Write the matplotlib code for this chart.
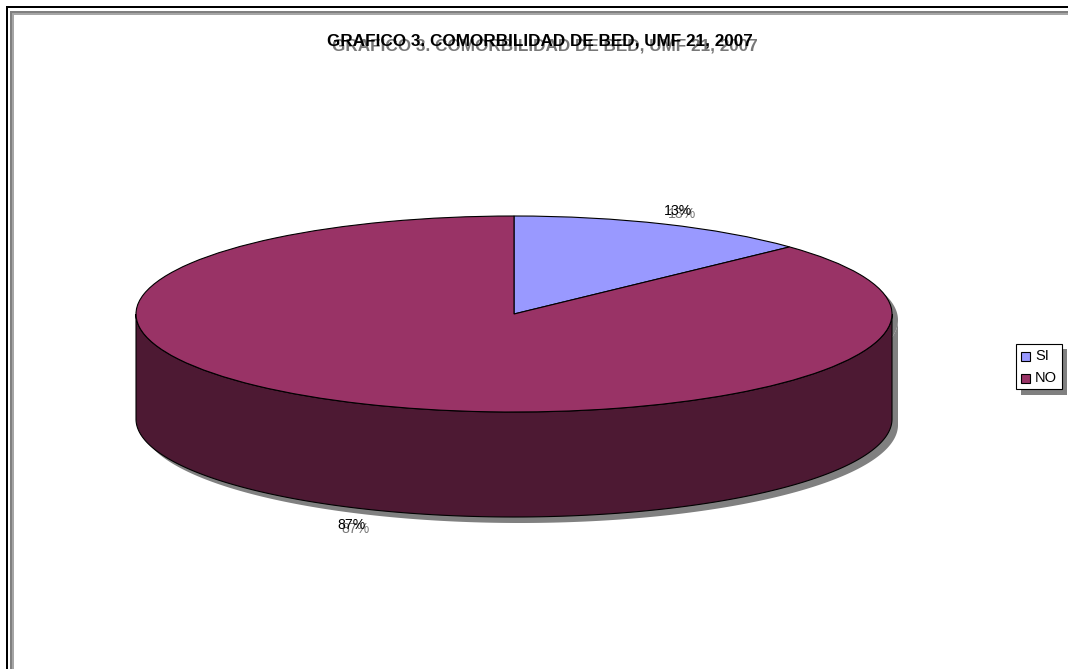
import numpy as np
import matplotlib
matplotlib.use("Agg")
import matplotlib.pyplot as plt
from matplotlib.patches import Rectangle, Polygon

plt.rcParams['font.family'] = ['Liberation Sans', 'DejaVu Sans']

categories = ['SI', 'NO']
shares = [13, 87]
colors = ['#9999FF', '#993366']
title = 'GRAFICO 3. COMORBILIDAD DE BED, UMF 21, 2007'

WIDTH, HEIGHT = 1068, 669
CX, CY = 514, 314      # centre of the top ellipse
RX, RY = 378, 98       # radii of the top ellipse
DEPTH = 105            # height of the cylinder wall
WALL = '#4D1933'
SHADOW = '#808080'

fig = plt.figure(figsize=(WIDTH / 100, HEIGHT / 100), dpi=100, facecolor='white')

# pixel axes for the frame, texts and legend
bg = fig.add_axes([0, 0, 1, 1])
bg.set_xlim(0, WIDTH)
bg.set_ylim(HEIGHT, 0)
bg.axis('off')

# outer black frame and grey inner frame run off the right and bottom edges
bg.add_patch(Rectangle((6, 6), WIDTH, 2, fc='black', ec='none'))
bg.add_patch(Rectangle((6, 6), 2, HEIGHT, fc='black', ec='none'))
bg.add_patch(Rectangle((10, 11), WIDTH, 4, fc='#A6A6A6', ec='none'))
bg.add_patch(Rectangle((10, 11), 4, HEIGHT, fc='#A6A6A6', ec='none'))
bg.add_patch(Rectangle((10, 11), WIDTH, 2, fc='#808080', ec='none'))
bg.add_patch(Rectangle((10, 11), 2, HEIGHT, fc='#808080', ec='none'))


def shadowed_text(ax, x, y, s, size, weight='normal', dx=5, dy=4):
    ax.text(x + dx, y + dy, s, color='#777777', fontsize=size, fontweight=weight,
            ha='center', va='center', zorder=5)
    ax.text(x, y, s, color='black', fontsize=size, fontweight=weight,
            ha='center', va='center', zorder=6)


# pie axes: one data unit equals one radius, so the wedges come out elliptical
pie_ax = fig.add_axes([0, 0, 1, 1])
pie_ax.patch.set_alpha(0)
wedges, _ = pie_ax.pie(shares, colors=colors, startangle=90, counterclock=False,
                       radius=1, wedgeprops={'edgecolor': 'black', 'linewidth': 0.8, 'zorder': 4})
pie_ax.set_aspect('auto')
pie_ax.set_xlim(-CX / RX, (WIDTH - CX) / RX)
pie_ax.set_ylim((CY - HEIGHT) / RY, CY / RY)
pie_ax.axis('off')

# cylinder wall below the front half of the ellipse
t = np.linspace(np.pi, 2 * np.pi, 300)
depth = DEPTH / RY
front = np.column_stack([np.cos(t), np.sin(t)])
lower = np.column_stack([np.cos(t[::-1]), np.sin(t[::-1]) - depth])
wall_pts = np.vstack([front, lower])

# drop shadow of the whole solid
full = np.linspace(0, 2 * np.pi, 400)
top_pts = np.column_stack([np.cos(full), np.sin(full)])
off = np.array([6 / RX, -6 / RY])
pie_ax.add_patch(Polygon(wall_pts + off, fc=SHADOW, ec='none', zorder=1))
pie_ax.add_patch(Polygon(top_pts + off, fc=SHADOW, ec='none', zorder=1))

pie_ax.add_patch(Polygon(wall_pts, fc=WALL, ec='black', lw=0.8, zorder=2))

# title and value labels
shadowed_text(bg, 540, 41, title, 12.35, weight='bold', dx=5, dy=5)
shadowed_text(bg, 678, 211, f'{shares[0]}%', 10.2, dx=4, dy=3)
shadowed_text(bg, 352, 525, f'{shares[1]}%', 10.2, dx=4, dy=4)

# legend box with its shadow
leg = fig.add_axes([0, 0, 1, 1])
leg.set_xlim(0, WIDTH)
leg.set_ylim(HEIGHT, 0)
leg.axis('off')
leg.add_patch(Rectangle((1021, 349), 46, 46, fc=SHADOW, ec='none', zorder=1))
leg.add_patch(Rectangle((1016, 344), 46, 45, fc='white', ec='black', lw=0.8, zorder=2))
for i, (name, col) in enumerate(zip(categories, colors)):
    y = 356 + i * 22
    leg.add_patch(Rectangle((1021, y - 4.5), 9, 9, fc=col, ec='black', lw=0.8, zorder=3))
    leg.text(1035, y + 0.5, name, fontsize=10.5, ha='left', va='center', color='black', zorder=3)

fig.savefig('out.png', dpi=100)
